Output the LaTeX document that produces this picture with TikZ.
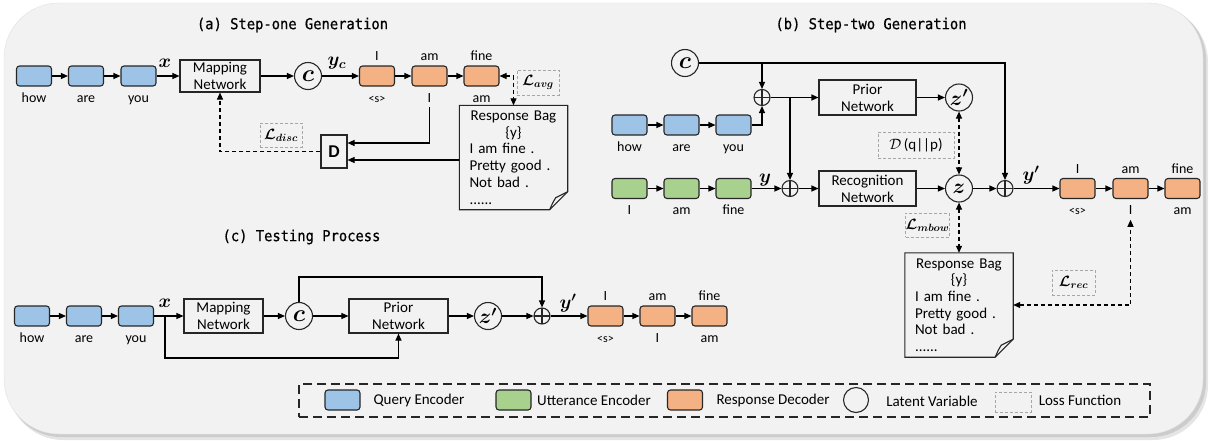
\documentclass[tikz,border=0pt]{standalone}
\usepackage{fix-cm}
\usepackage{fontspec}
\setmainfont{Carlito}
\newfontfamily\titlefont[FakeStretch=0.92, FakeBold=0.6]{DejaVu Sans Mono}
\usepackage{bm}
\usepackage{tikz}
\usetikzlibrary{
  positioning,
  calc,
  arrows.meta
}
\definecolor{qBlue}{HTML}{9DC3E6}
\definecolor{uGreen}{HTML}{A9D18E}
\definecolor{rOrange}{HTML}{F4B183}
\definecolor{bgGray}{HTML}{F2F2F2}
\definecolor{lossGray}{HTML}{A6A6A6}
\tikzstyle{arr}=[-{Triangle[length=7pt,width=6pt]}, line width=1.1pt]
\tikzstyle{dasharr}=[-{Triangle[length=7pt,width=6pt]}, line width=1.1pt, dash pattern=on 4pt off 3pt]
\tikzstyle{lossarr}=[{Triangle[length=7pt,width=6pt]}-{Triangle[length=7pt,width=6pt]}, line width=1.1pt, dash pattern=on 4pt off 3pt]
\tikzstyle{cell}=[draw=black!85, line width=1.1pt, rounded corners=3pt, minimum width=35pt, minimum height=20pt, inner sep=0pt]
\tikzstyle{qcell}=[cell, fill=qBlue]
\tikzstyle{ucell}=[cell, fill=uGreen]
\tikzstyle{rcell}=[cell, fill=rOrange]
\tikzstyle{net}=[draw=black!85, line width=1.1pt, align=center, inner sep=0pt, font=\fontsize{15}{17}\selectfont]
\tikzstyle{lat}=[circle, draw=black!85, line width=1.1pt, minimum size=27pt, inner sep=0pt]
\tikzstyle{opl}=[circle, draw=black!85, line width=1.1pt, minimum size=16pt, inner sep=0pt,
  path picture={\draw[line width=1.1pt] (path picture bounding box.north) -- (path picture bounding box.south)
    (path picture bounding box.west) -- (path picture bounding box.east);}]
\tikzstyle{loss}=[draw=lossGray, line width=0.9pt, dash pattern=on 3pt off 2pt, inner sep=0pt, font=\fontsize{15}{15}\selectfont]
\tikzstyle{word}=[font=\fontsize{14}{14}\selectfont, inner sep=1pt]
\tikzstyle{wup}=[word, anchor=base, yshift=4.5pt]
\tikzstyle{wdown}=[word, anchor=base, yshift=-15.5pt]
\tikzstyle{mlab}=[font=\fontsize{19}{19}\selectfont, inner sep=0pt]
\tikzstyle{ttl}=[font=\titlefont\fontsize{15}{15}\selectfont]
\tikzstyle{bag}=[text width=88pt, minimum width=108pt, minimum height=104pt, inner xsep=10pt, inner ysep=2pt, font=\fontsize{15}{16.7}\selectfont]
\tikzstyle{legtxt}=[font=\fontsize{15}{15}\selectfont]

% Response Bag の枠（折れた角）
\newcommand{\bagframe}[1]{%
  \draw[line width=1.1pt, draw=black!85] (#1.north west) -- (#1.north east) -- ([yshift=18pt]#1.south east)
    -- ([xshift=-18pt]#1.south east) -- (#1.south west) -- cycle;
  \draw[line width=1.1pt, draw=black!85] ([xshift=-18pt]#1.south east) .. controls ([xshift=-15pt,yshift=7pt]#1.south east)
    .. ([xshift=-12pt,yshift=12pt]#1.south east) -- ([yshift=18pt]#1.south east);
}
\newcommand{\bagtext}{\centering Response Bag\\ \{y\}\par\raggedright I am fine .\\ Pretty good .\\ Not bad .\\ ......}

\begin{document}
\begin{tikzpicture}[x=1pt, y=-1pt]
  \useasboundingbox (0,0) rectangle (1209,445);

  % 背景
  \fill[black!10, rounded corners=55pt] (8,7) rectangle (1208,440);
  \fill[black!20, rounded corners=55pt] (6,5) rectangle (1206,437);
  \filldraw[fill=bgGray, draw=black!12, rounded corners=55pt] (4,3) rectangle (1203,434);

  % タイトル
  \node[ttl] (ta) at (292.5,25) {(a) Step-one Generation};
  \node[ttl] (tb) at (871,25) {(b) Step-two Generation};
  \node[ttl] (tc) at (301.5,237) {(c) Testing Process};

  % (a) ノード
  \node[qcell] (qa1) at (34,76) {};
  \node[qcell] (qa2) at (86,76) {};
  \node[qcell] (qa3) at (138.5,76) {};
  \node[wdown] (wa1) at (qa1.south) {how};
  \node[wdown] (wa2) at (qa2.south) {are};
  \node[wdown] (wa3) at (qa3.south) {you};
  \node[mlab] (xa) at (165,63) {$\bm{x}$};
  \node[net, minimum width=80pt, minimum height=32pt] (mapa) at (220,76) {Mapping\\Network};
  \node[lat] (ca) at (308,76) {\fontsize{24}{24}\selectfont$\bm{c}$};
  \node[mlab] (yca) at (337,63) {$\bm{y_c}$};
  \node[rcell] (ra1) at (377,76) {};
  \node[rcell] (ra2) at (429.5,76) {};
  \node[rcell] (ra3) at (481.5,76) {};
  \node[wup] (ua1) at (ra1.north) {I};
  \node[wup] (ua2) at (ra2.north) {am};
  \node[wup] (ua3) at (ra3.north) {fine};
  \node[wdown, font=\fontsize{12}{12}\selectfont] (sa1) at (ra1.south) {<s>};
  \node[wdown] (sa2) at (ra2.south) {I};
  \node[wdown] (sa3) at (ra3.south) {am};
  \node[loss, minimum width=42pt, minimum height=25pt] (lavg) at (538,82.5) {$\bm{\mathcal{L}_{avg}}$};
  \node[bag] (baga) at (513.5,157.5) {\bagtext};
  \bagframe{baga}
  \node[draw=black!85, line width=1.1pt, minimum width=26pt, minimum height=33pt, inner sep=0pt,
    font=\bfseries\fontsize{18}{18}\selectfont] (D) at (334,151.5) {D};
  \node[loss, minimum width=42pt, minimum height=24pt] (ldisc) at (281,135) {$\bm{\mathcal{L}_{disc}}$};

  % (a) 矢印
  \draw[arr] (qa1) -- (qa2);
  \draw[arr] (qa2) -- (qa3);
  \draw[arr] (qa3) -- (mapa);
  \draw[arr] (mapa) -- (ca);
  \draw[arr] (ca) -- (ra1);
  \draw[arr] (ra1) -- (ra2);
  \draw[arr] (ra2) -- (ra3);
  \draw[lossarr] (ra3.east) -| (baga.north);
  \draw[arr] ([yshift=-4pt]sa2.south) |- ([yshift=8.5pt]D.east);
  \draw[arr] ([yshift=-2.5pt]baga.west) -- ([yshift=-8.5pt]D.east);
  \draw[dasharr] (D.west) -| (mapa.south);

  % (b) ノード
  \node[lat] (cb) at (685,63) {\fontsize{24}{24}\selectfont$\bm{c}$};
  \node[opl] (ops1) at (762,97.5) {};
  \node[qcell] (qb1) at (629.5,125) {};
  \node[qcell] (qb2) at (681.5,125) {};
  \node[qcell] (qb3) at (733.5,125) {};
  \node[wdown] (wb1) at (qb1.south) {how};
  \node[wdown] (wb2) at (qb2.south) {are};
  \node[wdown] (wb3) at (qb3.south) {you};
  \node[net, minimum width=97pt, minimum height=35pt] (prior) at (867.5,97.5) {Prior\\Network};
  \node[lat] (zp) at (959,97.5) {\fontsize{21}{21}\selectfont$\bm{z'}$};
  \node[ucell] (ub1) at (629.5,188.5) {};
  \node[ucell] (ub2) at (681.5,188.5) {};
  \node[ucell] (ub3) at (733.5,188.5) {};
  \node[wdown] (vb1) at (ub1.south) {I};
  \node[wdown] (vb2) at (ub2.south) {am};
  \node[wdown] (vb3) at (ub3.south) {fine};
  \node[mlab] (yb) at (765,180) {$\bm{y}$};
  \node[opl] (ops2) at (790,188.5) {};
  \node[net, minimum width=97pt, minimum height=35pt] (recog) at (867.5,188.5) {Recognition\\Network};
  \node[lat] (zb) at (959,188.5) {\fontsize{21}{21}\selectfont$\bm{z}$};
  \node[opl] (ops3) at (1005,188.5) {};
  \node[mlab] (ypb) at (1031,175) {$\bm{y'}$};
  \node[rcell] (rb1) at (1077.5,188.5) {};
  \node[rcell] (rb2) at (1130.5,188.5) {};
  \node[rcell] (rb3) at (1182.5,188.5) {};
  \node[wup] (ub1t) at (rb1.north) {I};
  \node[wup] (ub2t) at (rb2.north) {am};
  \node[wup] (ub3t) at (rb3.north) {fine};
  \node[wdown, font=\fontsize{12}{12}\selectfont] (sb1) at (rb1.south) {<s>};
  \node[wdown] (sb2) at (rb2.south) {I};
  \node[wdown] (sb3) at (rb3.south) {am};
  \node[loss, minimum width=76pt, minimum height=26pt] (dqp) at (916,145) {$\mathcal{D}$\,(q||p)};
  \node[loss, minimum width=41pt, minimum height=24pt] (lmbow) at (927.5,225) {$\bm{\mathcal{L}_{mbow}}$};
  \node[bag] (bagb) at (959,305) {\bagtext};
  \bagframe{bagb}
  \node[loss, minimum width=43pt, minimum height=25pt] (lrec) at (1073.5,282.5) {$\bm{\mathcal{L}_{rec}}$};

  % (b) 矢印
  \draw[arr] (cb.east) -| (ops3.north);
  \draw[arr] (ops1 |- cb.east) -- (ops1.north);
  \draw[arr] (qb1) -- (qb2);
  \draw[arr] (qb2) -- (qb3);
  \draw[arr] (qb3.east) -| (ops1.south);
  \draw[arr] (ops1) -- (prior);
  \draw[arr] (ops2 |- ops1.east) -- (ops2.north);
  \draw[arr] (ub1) -- (ub2);
  \draw[arr] (ub2) -- (ub3);
  \draw[arr] (ub3) -- (ops2);
  \draw[arr] (ops2) -- (recog);
  \draw[arr] (prior) -- (zp);
  \draw[arr] (recog) -- (zb);
  \draw[arr] (zb) -- (ops3);
  \draw[arr] (ops3) -- (rb1);
  \draw[arr] (rb1) -- (rb2);
  \draw[arr] (rb2) -- (rb3);
  \draw[lossarr] (zp) -- (zb);
  \draw[lossarr] (zb) -- (bagb);
  \draw[lossarr] (bagb.east) -| ([yshift=-4pt]sb2.south);

  % (c) ノード
  \node[qcell] (qc1) at (32,316) {};
  \node[qcell] (qc2) at (84,316) {};
  \node[qcell] (qc3) at (136,316) {};
  \node[wdown] (wc1) at (qc1.south) {how};
  \node[wdown] (wc2) at (qc2.south) {are};
  \node[wdown] (wc3) at (qc3.south) {you};
  \node[mlab] (xc) at (165,303) {$\bm{x}$};
  \node[net, minimum width=79pt, minimum height=34pt] (mapc) at (223.5,316) {Mapping\\Network};
  \node[lat] (cc) at (299,316) {\fontsize{24}{24}\selectfont$\bm{c}$};
  \node[net, minimum width=99pt, minimum height=34pt] (priorc) at (398.5,316) {Prior\\Network};
  \node[lat] (zpc) at (488,316) {\fontsize{21}{21}\selectfont$\bm{z'}$};
  \node[opl] (opt) at (542,316) {};
  \node[mlab] (ypc) at (568,303) {$\bm{y'}$};
  \node[rcell] (rc1) at (605.5,316) {};
  \node[rcell] (rc2) at (657.5,316) {};
  \node[rcell] (rc3) at (709.5,316) {};
  \node[wup] (uc1) at (rc1.north) {I};
  \node[wup] (uc2) at (rc2.north) {am};
  \node[wup] (uc3) at (rc3.north) {fine};
  \node[wdown, font=\fontsize{12}{12}\selectfont] (sc1) at (rc1.south) {<s>};
  \node[wdown] (sc2) at (rc2.south) {I};
  \node[wdown] (sc3) at (rc3.south) {am};
  \coordinate (topc) at (0,277);
  \coordinate (botc) at (0,358);
  \coordinate (brc) at (165,316);

  % (c) 矢印
  \draw[arr] (qc1) -- (qc2);
  \draw[arr] (qc2) -- (qc3);
  \draw[arr] (qc3) -- (mapc);
  \draw[arr] (mapc) -- (cc);
  \draw[arr] (cc) -- (priorc);
  \draw[arr] (priorc) -- (zpc);
  \draw[arr] (zpc) -- (opt);
  \draw[arr] (opt) -- (rc1);
  \draw[arr] (rc1) -- (rc2);
  \draw[arr] (rc2) -- (rc3);
  \draw[arr] (cc.north) -- (cc.north |- topc) -| (opt.north);
  \draw[arr] (brc) -- (brc |- botc) -| (priorc.south);

  % 凡例
  \node[draw=black!85, line width=1.8pt, dash pattern=on 9pt off 5pt, minimum width=851pt, minimum height=33pt] (legend) at (724.5,400.5) {};
  \node[qcell] (lgq) at (342.5,400) {};
  \node[legtxt] (lgqt) at (419,400) {Query Encoder};
  \node[ucell] (lgu) at (513.5,400) {};
  \node[legtxt] (lgut) at (594,400) {Utterance Encoder};
  \node[rcell] (lgr) at (685,400) {};
  \node[legtxt] (lgrt) at (773,400) {Response Decoder};
  \node[lat, minimum size=25pt] (lgl) at (856,400) {};
  \node[legtxt] (lglt) at (932,401) {Latent Variable};
  \node[loss, minimum width=36pt, minimum height=20pt] (lgf) at (1013,402) {};
  \node[legtxt] (lgft) at (1080,400) {Loss Function};
\end{tikzpicture}
\end{document}
